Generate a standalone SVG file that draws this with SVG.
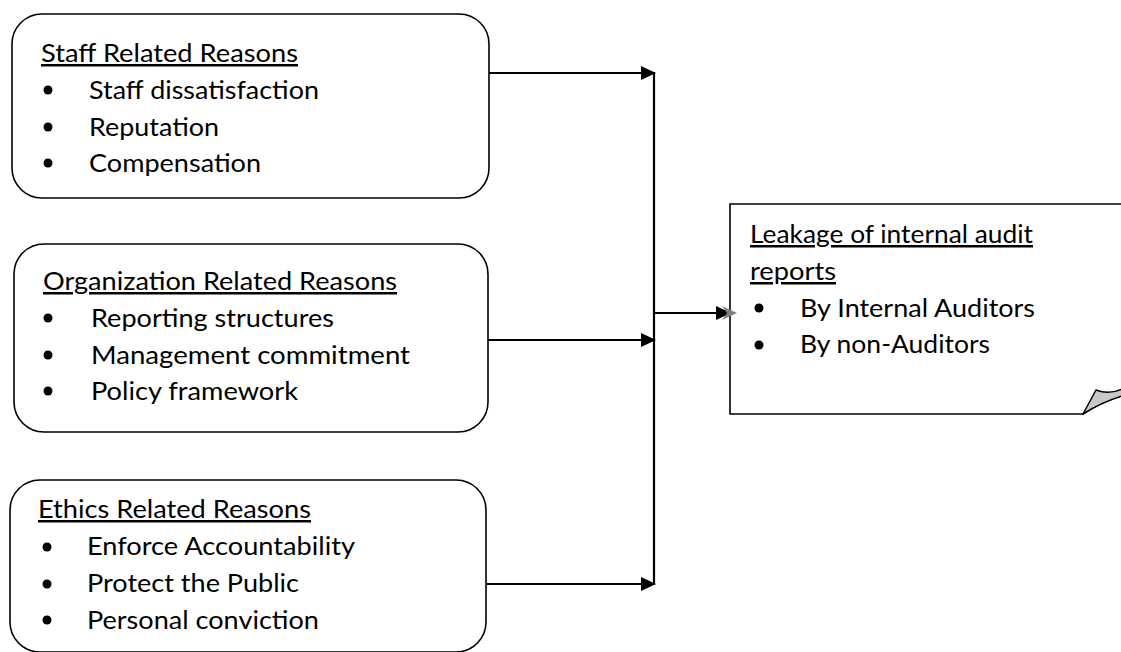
<svg xmlns="http://www.w3.org/2000/svg" width="1121" height="652" viewBox="0 0 1121 652">
<style>
.box{fill:#fff;stroke:#000;stroke-width:1.6}
.t{font-family:Lato,"Liberation Sans",sans-serif;font-size:25px;fill:#000}
.u{text-decoration:underline}
.ln{stroke:#000;stroke-width:2.2;fill:none}
</style>
<defs>
<marker id="ah" markerWidth="15" markerHeight="14" refX="14" refY="7" orient="auto" markerUnits="userSpaceOnUse" viewBox="0 0 15 14"><path d="M0,0 L15,7 L0,14 z" fill="#000"/></marker>
</defs>
<g id="staff">
<rect class="box" x="12" y="14" width="477" height="184" rx="30"/>
<text class="t u" x="41" y="62" textLength="257" lengthAdjust="spacingAndGlyphs">Staff Related Reasons</text>
<circle cx="48" cy="90" r="4.5"/><text class="t" x="89" y="99" textLength="230" lengthAdjust="spacingAndGlyphs">Staff dissatisfaction</text>
<circle cx="48" cy="127" r="4.5"/><text class="t" x="89" y="136" textLength="130" lengthAdjust="spacingAndGlyphs">Reputation</text>
<circle cx="48" cy="163" r="4.5"/><text class="t" x="89" y="172" textLength="172" lengthAdjust="spacingAndGlyphs">Compensation</text>
</g>
<g id="org">
<rect class="box" x="14" y="244" width="474" height="188" rx="30"/>
<text class="t u" x="43" y="290" textLength="354" lengthAdjust="spacingAndGlyphs">Organization Related Reasons</text>
<circle cx="48" cy="318" r="4.5"/><text class="t" x="91" y="327" textLength="243" lengthAdjust="spacingAndGlyphs">Reporting structures</text>
<circle cx="48" cy="355" r="4.5"/><text class="t" x="91" y="364" textLength="319" lengthAdjust="spacingAndGlyphs">Management commitment</text>
<circle cx="48" cy="391" r="4.5"/><text class="t" x="91" y="400" textLength="207" lengthAdjust="spacingAndGlyphs">Policy framework</text>
</g>
<g id="ethics">
<rect class="box" x="10" y="480" width="476" height="172" rx="30"/>
<text class="t u" x="38" y="518" textLength="273" lengthAdjust="spacingAndGlyphs">Ethics Related Reasons</text>
<circle cx="47" cy="547" r="4.5"/><text class="t" x="87" y="555" textLength="268" lengthAdjust="spacingAndGlyphs">Enforce Accountability</text>
<circle cx="47" cy="584" r="4.5"/><text class="t" x="87" y="592" textLength="212" lengthAdjust="spacingAndGlyphs">Protect the Public</text>
<circle cx="47" cy="620" r="4.5"/><text class="t" x="87" y="629" textLength="232" lengthAdjust="spacingAndGlyphs">Personal conviction</text>
</g>
<g id="leakage">
<path class="box" d="M730,204 H1130 V394 L1121,396 Q1100,403 1083,414 H730 Z"/>
<path d="M1083,414 L1096,390 Q1109,395 1122,389 L1122,396 Q1100,403 1083,414 Z" fill="#c8c8c8" stroke="#000" stroke-width="1.5" stroke-linejoin="round"/>
<text class="t u" x="750" y="243" textLength="283" lengthAdjust="spacingAndGlyphs">Leakage of internal audit</text>
<text class="t u" x="750" y="280" textLength="86" lengthAdjust="spacingAndGlyphs">reports</text>
<circle cx="759" cy="308" r="4.5"/><text class="t" x="800" y="317" textLength="235" lengthAdjust="spacingAndGlyphs">By Internal Auditors</text>
<circle cx="759" cy="345" r="4.5"/><text class="t" x="800" y="353" textLength="190" lengthAdjust="spacingAndGlyphs">By non-Auditors</text>
</g>
<g id="connectors">
<line class="ln" x1="654" y1="72" x2="654" y2="585"/>
<line class="ln" x1="489" y1="73" x2="655" y2="73" marker-end="url(#ah)"/>
<line class="ln" x1="488" y1="340" x2="655" y2="340" marker-end="url(#ah)"/>
<line class="ln" x1="487" y1="584" x2="655" y2="584" marker-end="url(#ah)"/>
<line class="ln" x1="654" y1="313" x2="730" y2="313" marker-end="url(#ah)"/>
<path d="M722,306 L737,313 L722,320 L727,313 z" fill="#808080"/>
</g>
</svg>
